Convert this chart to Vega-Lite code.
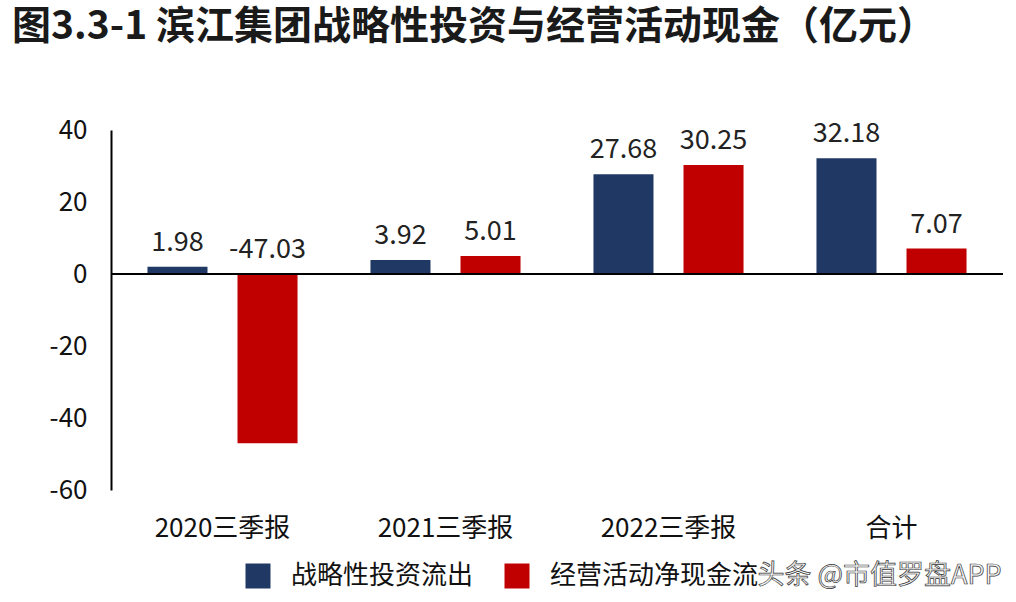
{
  "$schema": "https://vega.github.io/schema/vega-lite/v6.json",
  "autosize": "none",
  "width": 892,
  "height": 360,
  "padding": {"left": 111, "top": 130, "right": 13, "bottom": 112},
  "background": "#ffffff",
  "title": {
    "text": "图3.3-1 滨江集团战略性投资与经营活动现金（亿元）",
    "anchor": "start",
    "frame": "group",
    "dx": -99,
    "fontSize": 39,
    "fontWeight": "bold",
    "font": "Noto Sans CJK SC",
    "color": "#1a1a1a",
    "offset": 70
  },
  "config": {
    "view": {"stroke": null},
    "font": "Noto Sans CJK SC",
    "locale": {"number": {"decimal": ".", "thousands": ",", "grouping": [3], "currency": ["", ""], "minus": "-"}}
  },
  "data": {
    "values": [
      {"period": "2020三季报", "series": "战略性投资流出", "v": 1.98},
      {"period": "2020三季报", "series": "经营活动净现金流", "v": -47.03},
      {"period": "2021三季报", "series": "战略性投资流出", "v": 3.92},
      {"period": "2021三季报", "series": "经营活动净现金流", "v": 5.01},
      {"period": "2022三季报", "series": "战略性投资流出", "v": 27.68},
      {"period": "2022三季报", "series": "经营活动净现金流", "v": 30.25},
      {"period": "合计", "series": "战略性投资流出", "v": 32.18},
      {"period": "合计", "series": "经营活动净现金流", "v": 7.07}
    ]
  },
  "encoding": {
    "x": {
      "field": "period", "type": "nominal", "sort": null,
      "scale": {"paddingInner": 0, "paddingOuter": 0},
      "axis": {"title": null, "domain": false, "ticks": false, "labelAngle": 0, "labelFontSize": 26, "labelColor": "#111", "labelPadding": 25}
    },
    "xOffset": {
      "field": "series", "type": "nominal", "sort": ["战略性投资流出", "经营活动净现金流"],
      "scale": {"paddingInner": 0.3333, "paddingOuter": 0.405}
    }
  },
  "layer": [
    {
      "mark": {"type": "bar"},
      "encoding": {
        "y": {
          "field": "v", "type": "quantitative",
          "scale": {"domain": [-60, 40], "nice": false, "zero": false},
          "axis": {"title": null, "grid": false, "ticks": false, "values": [-60, -40, -20, 0, 20, 40], "domainColor": "#000", "domainWidth": 2, "labelFontSize": 26, "labelColor": "#111", "labelPadding": 24}
        },
        "color": {
          "field": "series", "type": "nominal",
          "sort": ["战略性投资流出", "经营活动净现金流"],
          "scale": {"domain": ["战略性投资流出", "经营活动净现金流"], "range": ["#1f3864", "#c00000"]},
          "legend": {"title": null, "orient": "none", "legendX": 134, "legendY": 433, "direction": "horizontal", "symbolType": "square", "symbolSize": 625, "symbolStrokeWidth": 0, "labelFontSize": 26, "labelColor": "#111", "labelLimit": 400, "columnPadding": 30, "labelOffset": 20}
        }
      }
    },
    {
      "mark": {"type": "rule", "color": "#000", "strokeWidth": 2},
      "encoding": {"y": {"datum": 0}, "x": null, "xOffset": null}
    },
    {
      "transform": [{"calculate": "max(datum.v, 0)", "as": "lab"}],
      "mark": {"type": "text", "fontSize": 27, "color": "#222", "baseline": "alphabetic", "dy": -16},
      "encoding": {
        "y": {"field": "lab", "type": "quantitative"},
        "text": {"field": "v", "type": "quantitative", "format": ".2f"}
      }
    },
    {
      "data": {"values": [{"wm": "头条 @市值罗盘APP"}]},
      "mark": {"type": "text", "fontSize": 27, "fill": "#f4f4f4", "stroke": "#333", "strokeWidth": 0.7, "baseline": "middle", "align": "center", "dx": -12},
      "encoding": {
        "x": {"datum": "合计"},
        "xOffset": null,
        "y": {"datum": -84},
        "text": {"field": "wm"}
      }
    }
  ]
}
